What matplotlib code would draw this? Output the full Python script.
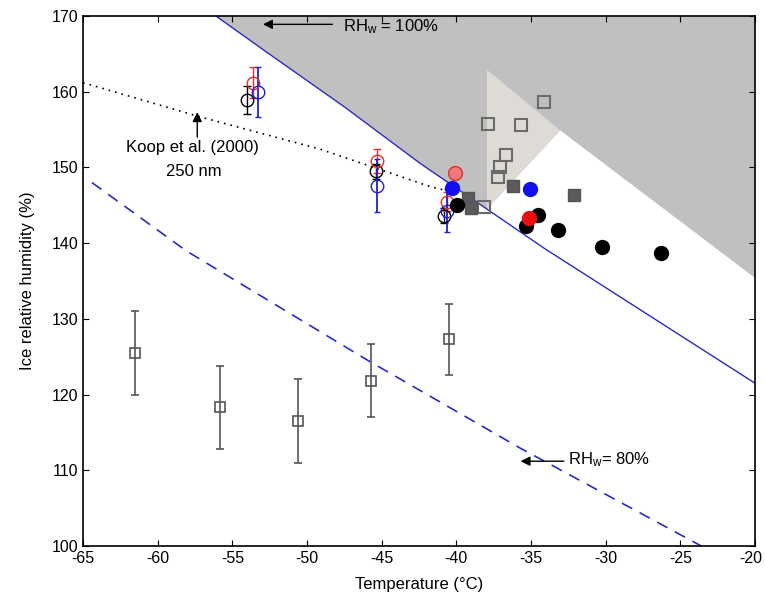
import matplotlib
matplotlib.use('Agg')
import matplotlib.pyplot as plt
import matplotlib.transforms as mtransforms

plt.rcParams['font.family'] = ['Liberation Sans', 'DejaVu Sans']
plt.rcParams['mathtext.default'] = 'regular'
plt.rcParams['axes.unicode_minus'] = False

# water saturation lines
rhw100_t = [-56.1, -52.9, -47.5, -42.4, -34.1, -20.0]
rhw100_rh = [170.0, 165.5, 158.0, 150.5, 139.3, 121.5]
rhw80_t = [-64.4, -58.1, -46.0, -35.7, -23.6]
rhw80_rh = [148.0, 139.0, 124.6, 112.9, 100.0]

# Koop et al. (2000), 250 nm
koop_t = [-65.0, -57.2, -49.1, -41.8, -40.2]
koop_rh = [161.2, 156.7, 152.4, 147.5, 146.7]

# shaded regions
dark_t = [-56.1, -52.9, -47.5, -42.4, -37.95, -33.05, -20.0, -20.0]
dark_rh = [170.0, 165.5, 158.0, 150.5, 144.5, 154.9, 135.4, 170.0]
light_t = [-37.95, -37.95, -33.05]
light_rh = [162.9, 144.5, 154.9]

# open squares with error bars
sq_t = [-61.5, -55.8, -50.6, -45.7, -40.5]
sq_rh = [125.5, 118.3, 116.5, 121.8, 127.3]
sq_lo = [119.9, 112.8, 110.9, 117.1, 122.6]
sq_hi = [131.0, 123.8, 122.1, 126.7, 132.0]

# open circles with error bars
blk_t = [-54.0, -45.4, -40.8]
blk_rh = [158.9, 149.5, 143.6]
blk_err = [1.8, 1.0, 1.0]
red_t = [-53.6, -45.3, -40.6]
red_rh = [161.2, 150.9, 145.5]
red_err = [2.0, 1.6, 1.2]
blu_t = [-53.3, -45.3, -40.6]
blu_rh = [159.9, 147.6, 144.3]
blu_err = [3.3, 3.5, 2.8]

# gray squares in the shaded area
osq_t = [-34.1, -37.85, -35.65, -36.7, -37.1, -37.2, -38.15]
osq_rh = [158.7, 155.8, 155.6, 151.7, 150.0, 148.8, 144.8]
fsq_t = [-36.2, -32.1, -39.2, -39.0]
fsq_rh = [147.6, 146.4, 145.9, 144.6]

# filled circles
bdot_t = [-39.95, -35.35, -34.55, -33.2, -30.25, -26.3]
bdot_rh = [145.0, 142.2, 143.7, 141.8, 139.5, 138.7]
rdot_t = [-35.15]
rdot_rh = [143.3]
pink_t = [-40.1]
pink_rh = [149.3]
bldot_t = [-35.05, -40.3]
bldot_rh = [147.1, 147.3]

fig = plt.figure(figsize=(7.65, 6.04), dpi=100)
ax = fig.add_axes([0.1085, 0.096, 0.8785, 0.8775])

ax.fill(dark_t, dark_rh, color='#c0c0c0', lw=0, zorder=0)
ax.fill(light_t, light_rh, color='#dedbd6', lw=0, zorder=0)

ax.plot(rhw100_t, rhw100_rh, color='#2b2bc4', lw=1, zorder=2)
ax.plot(rhw80_t, rhw80_rh, color='#2b2bc4', lw=1.2, dashes=(7, 5), zorder=2)
ax.plot(koop_t, koop_rh, color='k', lw=1.2, ls=(0, (1, 3)), zorder=2)

ax.errorbar(sq_t, sq_rh,
            yerr=[[m - l for m, l in zip(sq_rh, sq_lo)], [h - m for m, h in zip(sq_rh, sq_hi)]],
            fmt='s', ms=7, mfc='none', mec='#555555', ecolor='#555555',
            elinewidth=1.2, capsize=3, mew=1.2, zorder=3)

ax.plot(osq_t, osq_rh, 's', ms=8, mfc='none', mec='#6a6a6a', mew=1.5, zorder=3)
ax.plot(fsq_t, fsq_rh, 's', ms=8, mfc='#5a5a5a', mec='#555555', mew=1, zorder=3)

ax.errorbar(blk_t, blk_rh, yerr=blk_err, fmt='o', ms=9, mfc='none', mec='k',
            ecolor='k', capsize=3, elinewidth=1, mew=1, zorder=4)
ax.errorbar(red_t, red_rh, yerr=red_err, fmt='o', ms=9, mfc='none', mec='#e03030',
            ecolor='#e03030', capsize=3, elinewidth=1, mew=1, zorder=4)
ax.errorbar(blu_t, blu_rh, yerr=blu_err, fmt='o', ms=9, mfc='none', mec='#2020d0',
            ecolor='#2020d0', capsize=2, elinewidth=1.3, mew=1, zorder=4)

ax.plot(bdot_t, bdot_rh, 'o', ms=10, color='k', zorder=5)
ax.plot(rdot_t, rdot_rh, 'o', ms=10, color='#e81010', zorder=6)
ax.plot(pink_t, pink_rh, 'o', ms=10, mfc='#f07878', mec='#e03030', zorder=5)
ax.plot(bldot_t, bldot_rh, 'o', ms=10, color='#1010f0', zorder=5)

arrow = dict(arrowstyle='-|>', color='k', lw=1, mutation_scale=14, shrinkA=0, shrinkB=0)
ax.annotate('', xy=(-52.95, 168.9), xytext=(-48.3, 168.9), arrowprops=arrow, zorder=7)
ax.text(-47.6, 168.6, 'RH$_w$ = 100%', fontsize=12, va='center', ha='left')
ax.annotate('', xy=(-57.35, 157.3), xytext=(-57.35, 154.0), arrowprops=arrow, zorder=7)
ax.text(-57.7, 152.6, 'Koop et al. (2000)', fontsize=12, va='center', ha='center')
ax.text(-57.6, 149.4, '250 nm', fontsize=12, va='center', ha='center')
ax.annotate('', xy=(-35.7, 111.2), xytext=(-32.8, 111.2), arrowprops=arrow, zorder=7)
ax.text(-32.5, 111.4, 'RH$_w$= 80%', fontsize=12, va='center', ha='left')

ax.set_xlim(-65, -20)
ax.set_ylim(100, 170)
ax.set_xticks(range(-65, -19, 5))
ax.set_yticks(range(100, 171, 10))
ax.tick_params(direction='in', top=True, right=True, length=4, labelsize=11.5)
for s in ax.spines.values():
    s.set_linewidth(1.2)
ax.set_xlabel('Temperature (°C)', fontsize=12, labelpad=8)
ax.set_ylabel('Ice relative humidity (%)', fontsize=12, labelpad=12)

# nudge the last x tick label so it stays inside the figure
last = ax.get_xticklabels()[-1]
last.set_transform(last.get_transform() + mtransforms.ScaledTranslation(-4 / 100, 0, fig.dpi_scale_trans))

fig.savefig('out.png', dpi=100)
